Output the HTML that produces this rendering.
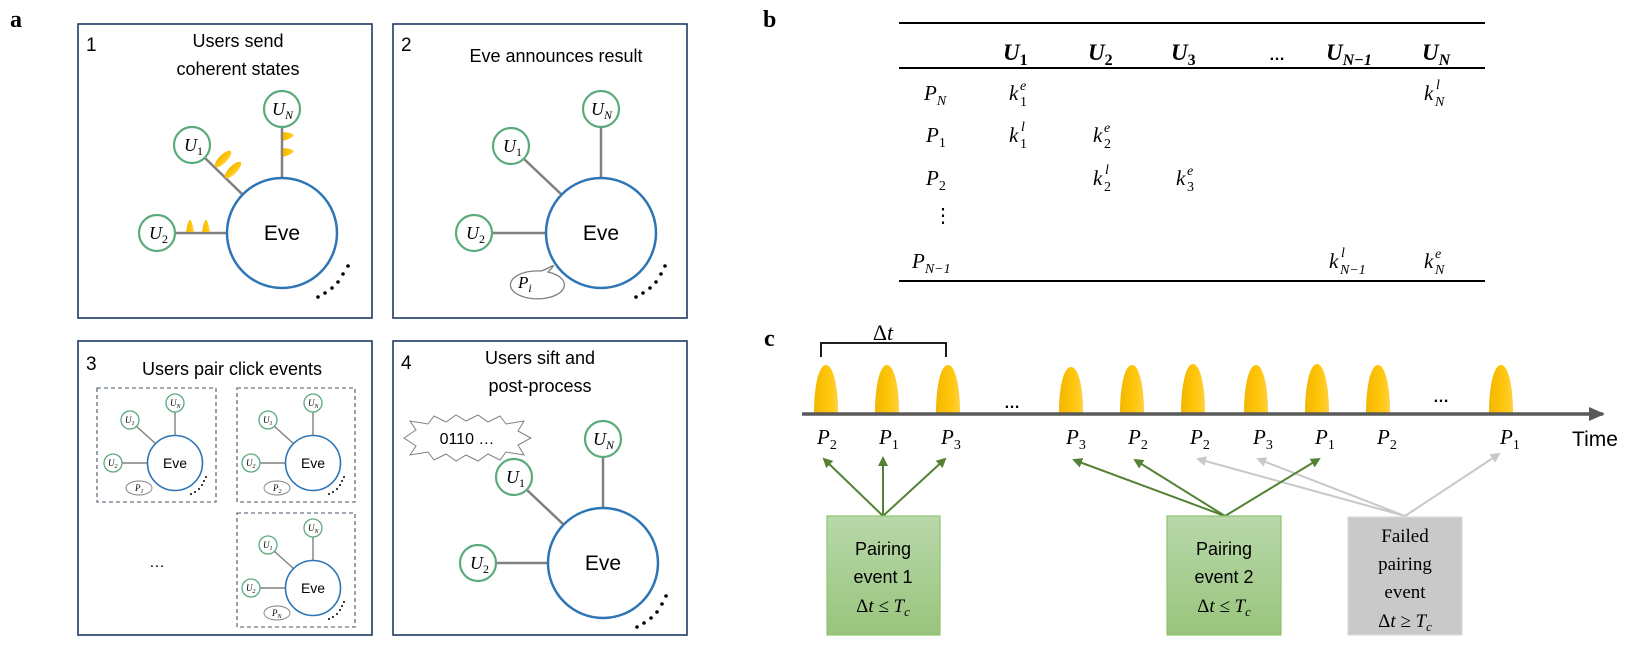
<!DOCTYPE html>
<html><head><meta charset="utf-8"><style>
html,body{margin:0;padding:0;background:#fff;}
svg{display:block;}
.sans{font-family:"Liberation Sans",sans-serif;}
.ser{font-family:"Liberation Serif",serif;}
.m{font-family:"Liberation Serif",serif;font-style:italic;}
</style></head><body>
<svg width="1644" height="645" viewBox="0 0 1644 645" xmlns="http://www.w3.org/2000/svg">
<defs>
<linearGradient id="pg" x1="0" x2="1" y1="0" y2="0"><stop offset="0" stop-color="#f2b600"/><stop offset="0.6" stop-color="#ffc60a"/><stop offset="1" stop-color="#ffcf40"/></linearGradient>
<linearGradient id="gg" x1="0" x2="0" y1="0" y2="1"><stop offset="0" stop-color="#b8d8aa"/><stop offset="1" stop-color="#99c47c"/></linearGradient>
<marker id="ag" markerWidth="10" markerHeight="10" refX="8" refY="5" orient="auto" markerUnits="userSpaceOnUse"><path d="M0,0 L10,5 L0,10 Z" fill="#548235"/></marker>
<marker id="ay" markerWidth="10" markerHeight="10" refX="8" refY="5" orient="auto" markerUnits="userSpaceOnUse"><path d="M0,0 L10,5 L0,10 Z" fill="#c8c8c8"/></marker>
<marker id="at" markerWidth="16" markerHeight="14" refX="14" refY="7" orient="auto" markerUnits="userSpaceOnUse"><path d="M0,0 L16,7 L0,14 Z" fill="#595959"/></marker>
</defs>

<!-- panel labels -->
<text x="10" y="27" class="ser" font-weight="bold" font-size="24">a</text>
<text x="763" y="27" class="ser" font-weight="bold" font-size="24">b</text>
<text x="764" y="346" class="ser" font-weight="bold" font-size="24">c</text>

<!-- boxes -->
<g fill="none" stroke="#1f3864" stroke-width="1.6">
<rect x="78" y="24" width="294" height="294"/>
<rect x="393" y="24" width="294" height="294"/>
<rect x="78" y="341" width="294" height="294"/>
<rect x="393" y="341" width="294" height="294"/>
</g>

<!-- Box 1 -->
<text x="86" y="51" class="sans" font-size="19">1</text>
<text x="238" y="47" class="sans" font-size="18" text-anchor="middle">Users send</text>
<text x="238" y="75" class="sans" font-size="18" text-anchor="middle">coherent states</text>
<g stroke="#808080" stroke-width="2.5">
<line x1="282" y1="127" x2="282" y2="178"/>
<line x1="205" y1="158" x2="243" y2="195"/>
<line x1="175" y1="233" x2="227" y2="233"/>
</g>
<g fill="url(#pg)">
<path d="M283,132 Q304,134 283,141 Z"/><path d="M283,148 Q304,150 283,157 Z"/>
<path d="M186,232 Q190,208 194,232 Z"/><path d="M202,232 Q206,208 210,232 Z"/>
<ellipse cx="223" cy="159" rx="4" ry="11" transform="rotate(45 223 159)"/>
<ellipse cx="233" cy="170" rx="4" ry="11" transform="rotate(45 233 170)"/>
</g>
<circle cx="282" cy="233" r="55" fill="#fff" stroke="#2e75b6" stroke-width="2.5"/>
<text x="282" y="240" class="sans" font-size="21" text-anchor="middle">Eve</text>
<g fill="#fff" stroke="#5aaa7c" stroke-width="2.2">
<circle cx="192" cy="145" r="18"/><circle cx="282" cy="109" r="18"/><circle cx="157" cy="233" r="18"/>
</g>
<text x="184" y="151" class="m" font-size="18">U<tspan font-size="12" dy="4" font-style="normal">1</tspan></text>
<text x="272" y="115" class="m" font-size="18">U<tspan font-size="12" dy="4">N</tspan></text>
<text x="149" y="239" class="m" font-size="18">U<tspan font-size="12" dy="4" font-style="normal">2</tspan></text>
<g fill="#000"><circle cx="318" cy="297" r="1.8"/><circle cx="325" cy="293" r="1.8"/><circle cx="332" cy="288" r="1.8"/><circle cx="338" cy="282" r="1.8"/><circle cx="343" cy="274" r="1.8"/><circle cx="348" cy="266" r="1.8"/></g>

<!-- Box 2 -->
<text x="401" y="51" class="sans" font-size="19">2</text>
<text x="556" y="62" class="sans" font-size="18" text-anchor="middle">Eve announces result</text>
<g stroke="#808080" stroke-width="2.5">
<line x1="601" y1="127" x2="601" y2="178"/>
<line x1="524" y1="159" x2="562" y2="195"/>
<line x1="492" y1="233" x2="546" y2="233"/>
</g>
<circle cx="601" cy="233" r="55" fill="#fff" stroke="#2e75b6" stroke-width="2.5"/>
<text x="601" y="240" class="sans" font-size="21" text-anchor="middle">Eve</text>
<g fill="#fff" stroke="#5aaa7c" stroke-width="2.2">
<circle cx="511" cy="146" r="18"/><circle cx="601" cy="109" r="18"/><circle cx="474" cy="233" r="18"/>
</g>
<text x="503" y="152" class="m" font-size="18">U<tspan font-size="12" dy="4" font-style="normal">1</tspan></text>
<text x="591" y="115" class="m" font-size="18">U<tspan font-size="12" dy="4">N</tspan></text>
<text x="466" y="239" class="m" font-size="18">U<tspan font-size="12" dy="4" font-style="normal">2</tspan></text>
<path d="M548,272 Q556,264 552,266 Q545,270 541,271 A27,14 0 1 0 548,272 Z" fill="#fff" stroke="#808080" stroke-width="1.3"/>
<text x="518" y="288" class="m" font-size="17">P<tspan font-size="12" dy="4">i</tspan></text>
<g fill="#000"><circle cx="636" cy="297" r="1.8"/><circle cx="643" cy="293" r="1.8"/><circle cx="650" cy="288" r="1.8"/><circle cx="656" cy="282" r="1.8"/><circle cx="661" cy="274" r="1.8"/><circle cx="665" cy="266" r="1.8"/></g>

<!-- Box 3 -->
<text x="86" y="370" class="sans" font-size="19">3</text>
<text x="232" y="375" class="sans" font-size="18" text-anchor="middle">Users pair click events</text>
<g fill="none" stroke="#44546a" stroke-width="1.1" stroke-dasharray="4,3">
<rect x="97" y="388" width="119" height="114"/>
<rect x="237" y="388" width="118" height="114"/>
<rect x="237" y="513" width="118" height="114"/>
</g>
<text x="157" y="567" class="sans" font-size="16" text-anchor="middle">…</text>

<g transform="translate(175,463)">
<g stroke="#808080" stroke-width="1.4"><line x1="0" y1="-51" x2="0" y2="-27"/><line x1="-39" y1="-37" x2="-19" y2="-19"/><line x1="-53" y1="0" x2="-27" y2="0"/></g>
<circle r="27.5" fill="#fff" stroke="#2e75b6" stroke-width="1.6"/>
<text y="5" class="sans" font-size="14" text-anchor="middle">Eve</text>
<g fill="#fff" stroke="#5aaa7c" stroke-width="1.3"><circle cx="0" cy="-60" r="9"/><circle cx="-45" cy="-43" r="9"/><circle cx="-62" cy="0" r="9"/></g>
<text x="-5" y="-57" class="m" font-size="9">U<tspan font-size="6" dy="2">N</tspan></text>
<text x="-50" y="-40" class="m" font-size="9">U<tspan font-size="6" dy="2">1</tspan></text>
<text x="-67" y="3" class="m" font-size="9">U<tspan font-size="6" dy="2">2</tspan></text>
<ellipse cx="-36" cy="25" rx="13" ry="7" fill="#fff" stroke="#808080" stroke-width="0.9"/>
<text x="-40" y="28" class="m" font-size="9">P<tspan font-size="6" dy="2">1</tspan></text>
<g fill="#000"><circle cx="16" cy="31" r="1"/><circle cx="20" cy="29" r="1"/><circle cx="24" cy="26" r="1"/><circle cx="27" cy="22" r="1"/><circle cx="29" cy="18" r="1"/><circle cx="31" cy="14" r="1"/></g>
</g>
<g transform="translate(313,463)">
<g stroke="#808080" stroke-width="1.4"><line x1="0" y1="-51" x2="0" y2="-27"/><line x1="-39" y1="-37" x2="-19" y2="-19"/><line x1="-53" y1="0" x2="-27" y2="0"/></g>
<circle r="27.5" fill="#fff" stroke="#2e75b6" stroke-width="1.6"/>
<text y="5" class="sans" font-size="14" text-anchor="middle">Eve</text>
<g fill="#fff" stroke="#5aaa7c" stroke-width="1.3"><circle cx="0" cy="-60" r="9"/><circle cx="-45" cy="-43" r="9"/><circle cx="-62" cy="0" r="9"/></g>
<text x="-5" y="-57" class="m" font-size="9">U<tspan font-size="6" dy="2">N</tspan></text>
<text x="-50" y="-40" class="m" font-size="9">U<tspan font-size="6" dy="2">1</tspan></text>
<text x="-67" y="3" class="m" font-size="9">U<tspan font-size="6" dy="2">2</tspan></text>
<ellipse cx="-36" cy="25" rx="13" ry="7" fill="#fff" stroke="#808080" stroke-width="0.9"/>
<text x="-40" y="28" class="m" font-size="9">P<tspan font-size="6" dy="2">2</tspan></text>
<g fill="#000"><circle cx="16" cy="31" r="1"/><circle cx="20" cy="29" r="1"/><circle cx="24" cy="26" r="1"/><circle cx="27" cy="22" r="1"/><circle cx="29" cy="18" r="1"/><circle cx="31" cy="14" r="1"/></g>
</g>
<g transform="translate(313,588)">
<g stroke="#808080" stroke-width="1.4"><line x1="0" y1="-51" x2="0" y2="-27"/><line x1="-39" y1="-37" x2="-19" y2="-19"/><line x1="-53" y1="0" x2="-27" y2="0"/></g>
<circle r="27.5" fill="#fff" stroke="#2e75b6" stroke-width="1.6"/>
<text y="5" class="sans" font-size="14" text-anchor="middle">Eve</text>
<g fill="#fff" stroke="#5aaa7c" stroke-width="1.3"><circle cx="0" cy="-60" r="9"/><circle cx="-45" cy="-43" r="9"/><circle cx="-62" cy="0" r="9"/></g>
<text x="-5" y="-57" class="m" font-size="9">U<tspan font-size="6" dy="2">N</tspan></text>
<text x="-50" y="-40" class="m" font-size="9">U<tspan font-size="6" dy="2">1</tspan></text>
<text x="-67" y="3" class="m" font-size="9">U<tspan font-size="6" dy="2">2</tspan></text>
<ellipse cx="-36" cy="25" rx="13" ry="7" fill="#fff" stroke="#808080" stroke-width="0.9"/>
<text x="-41" y="28" class="m" font-size="9">P<tspan font-size="6" dy="2">N</tspan></text>
<g fill="#000"><circle cx="16" cy="31" r="1"/><circle cx="20" cy="29" r="1"/><circle cx="24" cy="26" r="1"/><circle cx="27" cy="22" r="1"/><circle cx="29" cy="18" r="1"/><circle cx="31" cy="14" r="1"/></g>
</g>

<!-- Box 4 -->
<text x="401" y="369" class="sans" font-size="19">4</text>
<text x="540" y="364" class="sans" font-size="18" text-anchor="middle">Users sift and</text>
<text x="540" y="392" class="sans" font-size="18" text-anchor="middle">post-process</text>
<polygon points="404,438 416,430 410,421 428,424 434,416 446,422 456,415 466,421 478,415 488,422 500,416 506,424 524,421 518,431 531,438 518,445 524,455 506,452 500,460 488,454 478,461 466,455 456,461 446,454 434,460 428,452 410,455 416,446" fill="#fff" stroke="#808080" stroke-width="1"/>
<text x="467" y="444" class="sans" font-size="16" text-anchor="middle">0110 …</text>
<g stroke="#808080" stroke-width="2.5">
<line x1="603" y1="457" x2="603" y2="508"/>
<line x1="527" y1="490" x2="564" y2="525"/>
<line x1="496" y1="563" x2="548" y2="563"/>
</g>
<circle cx="603" cy="563" r="55" fill="#fff" stroke="#2e75b6" stroke-width="2.5"/>
<text x="603" y="570" class="sans" font-size="21" text-anchor="middle">Eve</text>
<g fill="#fff" stroke="#5aaa7c" stroke-width="2.2">
<circle cx="514" cy="477" r="18"/><circle cx="603" cy="439" r="18"/><circle cx="478" cy="563" r="18"/>
</g>
<text x="506" y="483" class="m" font-size="18">U<tspan font-size="12" dy="4" font-style="normal">1</tspan></text>
<text x="593" y="445" class="m" font-size="18">U<tspan font-size="12" dy="4">N</tspan></text>
<text x="470" y="569" class="m" font-size="18">U<tspan font-size="12" dy="4" font-style="normal">2</tspan></text>
<g fill="#000"><circle cx="637" cy="627" r="1.8"/><circle cx="644" cy="623" r="1.8"/><circle cx="651" cy="618" r="1.8"/><circle cx="657" cy="612" r="1.8"/><circle cx="662" cy="604" r="1.8"/><circle cx="666" cy="596" r="1.8"/></g>

<!-- Panel b table -->
<g stroke="#000" stroke-width="2"><line x1="899" y1="23" x2="1485" y2="23"/><line x1="899" y1="68" x2="1485" y2="68"/><line x1="899" y1="281" x2="1485" y2="281"/></g>
<g class="m" font-size="23" font-weight="bold">
<text x="1003" y="60">U<tspan font-size="16" dy="5" font-style="normal">1</tspan></text>
<text x="1088" y="60">U<tspan font-size="16" dy="5" font-style="normal">2</tspan></text>
<text x="1171" y="60">U<tspan font-size="16" dy="5" font-style="normal">3</tspan></text>
<text x="1326" y="60">U<tspan font-size="16" dy="5">N−1</tspan></text>
<text x="1422" y="60">U<tspan font-size="16" dy="5">N</tspan></text>
</g>
<text x="1277" y="60" class="sans" font-size="16" font-weight="bold" text-anchor="middle">…</text>
<g class="m" font-size="21">
<text x="924" y="100">P<tspan font-size="14" dy="5">N</tspan></text>
<text x="926" y="142">P<tspan font-size="14" dy="5" font-style="normal">1</tspan></text>
<text x="926" y="185">P<tspan font-size="14" dy="5" font-style="normal">2</tspan></text>
<text x="912" y="268">P<tspan font-size="14" dy="5">N−1</tspan></text>
</g>
<text x="933" y="222" class="ser" font-size="20">⋮</text>
<g class="m" font-size="21">
<text x="1009" y="100">k</text><text x="1020" y="90" font-size="14">e</text><text x="1020" y="106" font-size="14" font-style="normal">1</text>
<text x="1009" y="142">k</text><text x="1021" y="131" font-size="14">l</text><text x="1020" y="148" font-size="14" font-style="normal">1</text>
<text x="1093" y="142">k</text><text x="1104" y="132" font-size="14">e</text><text x="1104" y="148" font-size="14" font-style="normal">2</text>
<text x="1093" y="185">k</text><text x="1105" y="174" font-size="14">l</text><text x="1104" y="191" font-size="14" font-style="normal">2</text>
<text x="1176" y="185">k</text><text x="1187" y="175" font-size="14">e</text><text x="1187" y="191" font-size="14" font-style="normal">3</text>
<text x="1424" y="100">k</text><text x="1436" y="89" font-size="14">l</text><text x="1435" y="106" font-size="14">N</text>
<text x="1329" y="268">k</text><text x="1341" y="257" font-size="14">l</text><text x="1340" y="274" font-size="14">N−1</text>
<text x="1424" y="268">k</text><text x="1435" y="258" font-size="14">e</text><text x="1435" y="274" font-size="14">N</text>
</g>

<!-- Panel c -->
<text x="883" y="340" class="m" font-size="22" text-anchor="middle"><tspan font-style="normal">Δ</tspan>t</text>
<path d="M821,357 L821,343 L946,343 L946,357" fill="none" stroke="#000" stroke-width="1.8"/>
<g fill="url(#pg)">
<path d="M814,413 C814,385 819,365 826,365 C833,365 838,385 838,413 Z"/>
<path d="M875,413 C875,385 880,365 887,365 C894,365 899,385 899,413 Z"/>
<path d="M936,413 C936,385 941,365 948,365 C955,365 960,385 960,413 Z"/>
<path d="M1059,413 C1059,385 1064,367 1071,367 C1078,367 1083,385 1083,413 Z"/>
<path d="M1120,413 C1120,385 1125,365 1132,365 C1139,365 1144,385 1144,413 Z"/>
<path d="M1181,413 C1181,385 1186,364 1193,364 C1200,364 1205,385 1205,413 Z"/>
<path d="M1244,413 C1244,385 1249,365 1256,365 C1263,365 1268,385 1268,413 Z"/>
<path d="M1305,413 C1305,385 1310,364 1317,364 C1324,364 1329,385 1329,413 Z"/>
<path d="M1366,413 C1366,385 1371,365 1378,365 C1385,365 1390,385 1390,413 Z"/>
<path d="M1489,413 C1489,385 1494,365 1501,365 C1508,365 1513,385 1513,413 Z"/>
</g>
<line x1="802" y1="414" x2="1603" y2="414" stroke="#595959" stroke-width="3.5" marker-end="url(#at)"/>
<text x="1012" y="408" class="sans" font-size="16" font-weight="bold" text-anchor="middle">…</text>
<text x="1441" y="402" class="sans" font-size="16" font-weight="bold" text-anchor="middle">…</text>
<g class="m" font-size="21">
<text x="817" y="444">P<tspan font-size="14" dy="5" font-style="normal">2</tspan></text>
<text x="879" y="444">P<tspan font-size="14" dy="5" font-style="normal">1</tspan></text>
<text x="941" y="444">P<tspan font-size="14" dy="5" font-style="normal">3</tspan></text>
<text x="1066" y="444">P<tspan font-size="14" dy="5" font-style="normal">3</tspan></text>
<text x="1128" y="444">P<tspan font-size="14" dy="5" font-style="normal">2</tspan></text>
<text x="1190" y="444">P<tspan font-size="14" dy="5" font-style="normal">2</tspan></text>
<text x="1253" y="444">P<tspan font-size="14" dy="5" font-style="normal">3</tspan></text>
<text x="1315" y="444">P<tspan font-size="14" dy="5" font-style="normal">1</tspan></text>
<text x="1377" y="444">P<tspan font-size="14" dy="5" font-style="normal">2</tspan></text>
<text x="1500" y="444">P<tspan font-size="14" dy="5" font-style="normal">1</tspan></text>
</g>
<text x="1595" y="446" class="sans" font-size="21" text-anchor="middle">Time</text>

<!-- arrows -->
<g stroke="#c8c8c8" stroke-width="2" marker-end="url(#ay)">
<line x1="1405" y1="516" x2="1198" y2="459"/>
<line x1="1405" y1="516" x2="1258" y2="459"/>
<line x1="1405" y1="516" x2="1499" y2="454"/>
</g>
<g stroke="#548235" stroke-width="2" marker-end="url(#ag)">
<line x1="883" y1="516" x2="824" y2="459"/>
<line x1="883" y1="516" x2="883" y2="458"/>
<line x1="883" y1="516" x2="945" y2="459"/>
<line x1="1225" y1="516" x2="1074" y2="460"/>
<line x1="1225" y1="516" x2="1135" y2="460"/>
<line x1="1225" y1="516" x2="1319" y2="459"/>
</g>

<rect x="827" y="516" width="113" height="119" fill="url(#gg)" stroke="#8cc46f" stroke-width="1.2"/>
<text x="883" y="555" class="sans" font-size="18" text-anchor="middle">Pairing</text>
<text x="883" y="583" class="sans" font-size="18" text-anchor="middle">event 1</text>
<text x="883" y="612" class="m" font-size="19" text-anchor="middle"><tspan font-style="normal">Δ</tspan>t ≤ T<tspan font-size="13" dy="4">c</tspan></text>

<rect x="1167" y="516" width="114" height="119" fill="url(#gg)" stroke="#8cc46f" stroke-width="1.2"/>
<text x="1224" y="555" class="sans" font-size="18" text-anchor="middle">Pairing</text>
<text x="1224" y="583" class="sans" font-size="18" text-anchor="middle">event 2</text>
<text x="1224" y="612" class="m" font-size="19" text-anchor="middle"><tspan font-style="normal">Δ</tspan>t ≤ T<tspan font-size="13" dy="4">c</tspan></text>

<rect x="1348" y="517" width="114" height="118" fill="#c9c9c9" stroke="#dadada" stroke-width="1.2"/>
<text x="1405" y="542" class="ser" font-size="19" text-anchor="middle">Failed</text>
<text x="1405" y="570" class="ser" font-size="19" text-anchor="middle">pairing</text>
<text x="1405" y="598" class="ser" font-size="19" text-anchor="middle">event</text>
<text x="1405" y="627" class="m" font-size="19" text-anchor="middle"><tspan font-style="normal">Δ</tspan>t ≥ T<tspan font-size="13" dy="4">c</tspan></text>
</svg>
</body></html>
